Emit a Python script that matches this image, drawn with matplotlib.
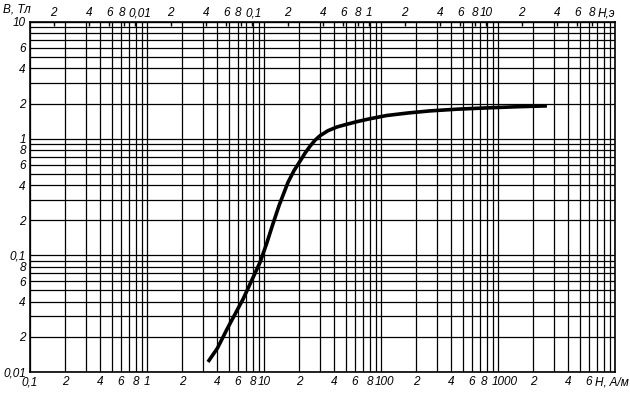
import matplotlib.pyplot as plt
import matplotlib.transforms as mtrans

# кривая намагничивания B(H)
h_am = [3.32, 4.0, 4.83, 6.62, 9.25, 10.5, 11.9, 13.5, 16.0, 18.0, 20.3, 22.4, 24.7, 27.3, 30.1,
        35.2, 42.1, 51.2, 62.4, 80, 112, 170, 262, 450, 855, 1500, 2620]
b_t = [0.0122, 0.0160, 0.0233, 0.0421, 0.0871, 0.125, 0.185, 0.27, 0.42, 0.53, 0.64, 0.75, 0.86, 0.97, 1.06,
       1.17, 1.26, 1.33, 1.40, 1.48, 1.58, 1.66, 1.73, 1.79, 1.84, 1.88, 1.91]

x_ticks = [0.1, 0.2, 0.4, 0.6, 0.8, 1, 2, 4, 6, 8, 10, 20, 40, 60, 80, 100,
           200, 400, 600, 800, 1000, 2000, 4000, 6000]
x_labels = ['0,1', '2', '4', '6', '8', '1', '2', '4', '6', '8', '10', '2', '4', '6', '8', '100',
            '2', '4', '6', '8', '1000', '2', '4', '6']
y_ticks = [0.01, 0.02, 0.04, 0.06, 0.08, 0.1, 0.2, 0.4, 0.6, 0.8, 1, 2, 4, 6, 10]
y_labels = ['0,01', '2', '4', '6', '8', '0,1', '2', '4', '6', '8', '1', '2', '4', '6', '10']
oe_ticks = [0.002, 0.004, 0.006, 0.008, 0.01, 0.02, 0.04, 0.06, 0.08, 0.1,
            0.2, 0.4, 0.6, 0.8, 1, 2, 4, 6, 8, 10, 20, 40, 60, 80]
oe_labels = ['2', '4', '6', '8', '0,01', '2', '4', '6', '8', '0,1',
             '2', '4', '6', '8', '1', '2', '4', '6', '8', '10', '2', '4', '6', '8']

grid_x = [m * 10.0 ** e for e in range(-1, 4) for m in range(1, 10)] + [10000]
grid_y = [m * 10.0 ** e for e in range(-2, 1) for m in range(1, 10)] + [10]

OE = 1000 / (4 * 3.14159265)  # А/м в 1 э

fnt = dict(family=['Liberation Sans', 'DejaVu Sans'], style='italic', size=8.5)

fig = plt.figure(figsize=(6.3, 3.93), dpi=100)
ax = fig.add_axes([30 / 630, 21 / 393, 585 / 630, 350 / 393])
ax.set_xscale('log')
ax.set_yscale('log')
ax.set_xlim(0.1, 10000)
ax.set_ylim(0.01, 10)

# сетка: все деления 1..9 каждой декады
for v in grid_x:
    ax.axvline(v, color='black', linewidth=0.9, zorder=1)
for v in grid_y:
    ax.axhline(v, color='black', linewidth=0.9, zorder=1)

ax.xaxis.set_minor_locator(plt.NullLocator())
ax.yaxis.set_minor_locator(plt.NullLocator())
ax.set_xticks(x_ticks)
ax.set_xticklabels(x_labels, **fnt)
ax.set_yticks(y_ticks)
ax.set_yticklabels(y_labels, **fnt)
ax.tick_params(which='major', length=0, pad=3)
for s in ax.spines.values():
    s.set_linewidth(1.2)

ax.plot(h_am, b_t, color='black', linewidth=2.6, solid_capstyle='butt',
        solid_joinstyle='round', zorder=3)

top = ax.secondary_xaxis('top', functions=(lambda h: h / OE, lambda o: o * OE))
top.set_xticks(oe_ticks)
top.set_xticklabels(oe_labels, **fnt)
top.tick_params(direction='in', length=3, width=1, pad=2)
top.xaxis.set_minor_locator(plt.NullLocator())


def nudge(lbl, px):
    lbl.set_transform(lbl.get_transform() + mtrans.ScaledTranslation(px / 100, 0, fig.dpi_scale_trans))


bl = ax.get_xticklabels()
nudge(bl[15], 3)    # 100
nudge(bl[19], -3)   # 8
nudge(bl[20], 7)    # 1000
tl = top.get_xticklabels()
nudge(tl[3], -2)
nudge(tl[4], 4)     # 0,01
nudge(tl[8], -3)
nudge(tl[9], 1)     # 0,1

ax.text(565 / 585, -0.012, 'H, A/м', transform=ax.transAxes, ha='left', va='top', **fnt)
ax.text(568 / 585, 1.008, 'H,э', transform=ax.transAxes, ha='left', va='bottom', **fnt)
fig.text(3 / 630, 1 - 3 / 393, 'B, Тл', ha='left', va='top', **fnt)

fig.savefig('out.png', dpi=100)
